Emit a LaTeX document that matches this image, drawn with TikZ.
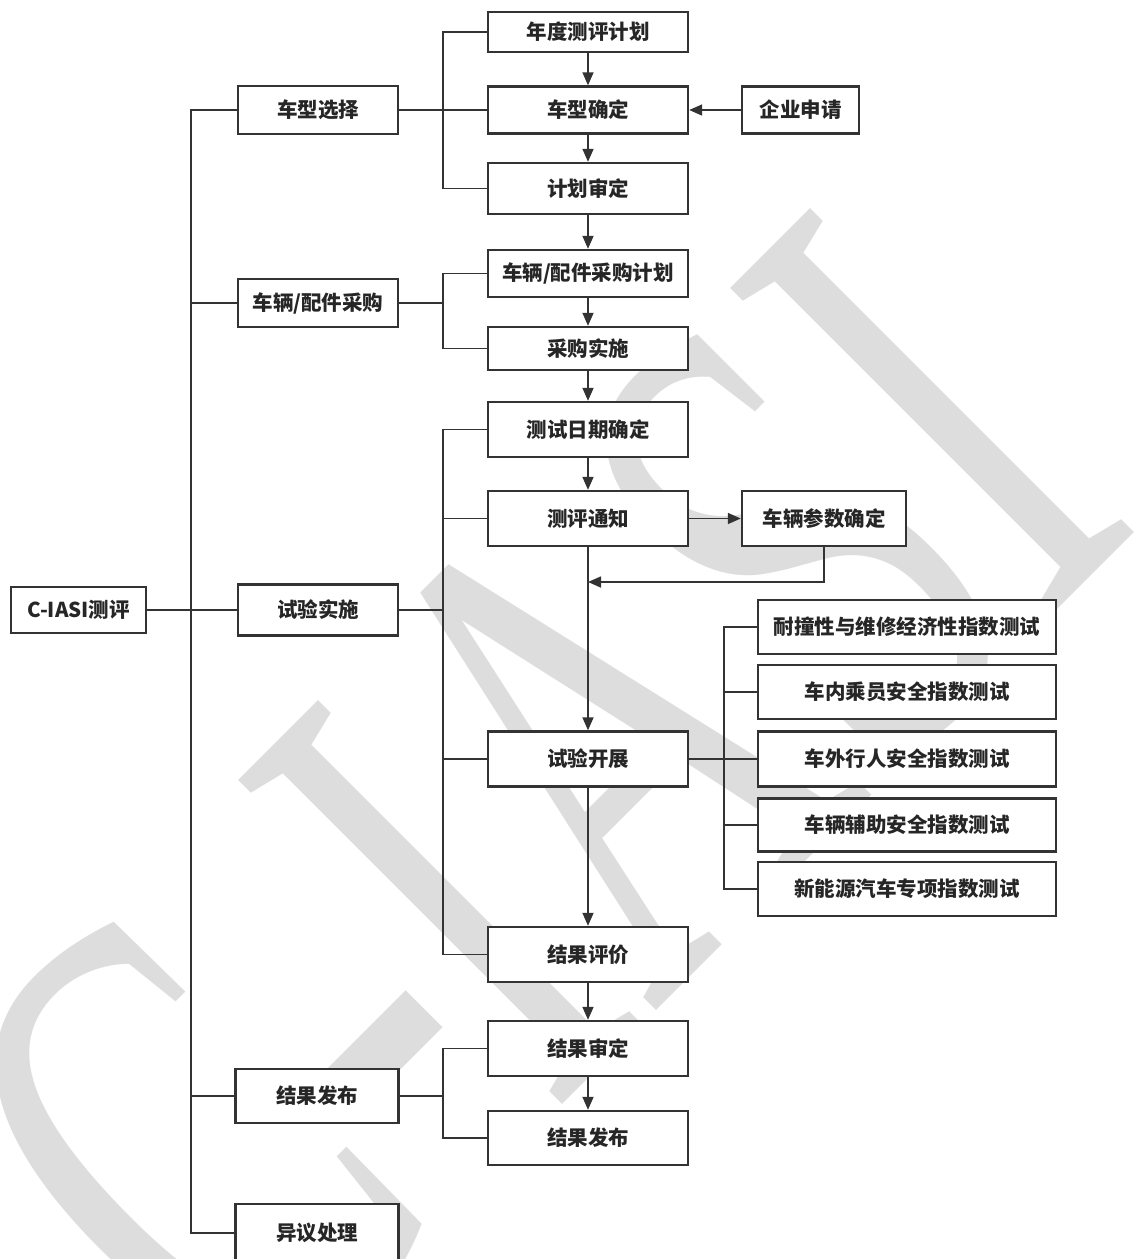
\documentclass[tikz,border=0pt]{standalone}
\usepackage{fontspec}
\setmainfont{Noto Sans CJK SC}
\newfontfamily\wmfont{Liberation Serif}
\usetikzlibrary{arrows.meta}
\definecolor{linec}{HTML}{333333}
\definecolor{textc}{HTML}{262626}
\definecolor{wmc}{HTML}{DDDDDD}
\tikzset{
  box/.style={draw=linec, line width=2.4pt, fill=white, inner sep=0pt, text=textc,
    font=\bfseries\fontsize{20.5}{24}\selectfont},
  conn/.style={draw=linec, line width=1.6pt},
  arr/.style={conn, -{Triangle[length=13pt,width=11pt]}},
}
\begin{document}
\begin{tikzpicture}[x=1pt,y=1pt]
\fill[white] (0,0) rectangle (1136,-1259);
\useasboundingbox (0,0) rectangle (1136,-1259);
% watermark
\begin{scope}[shift={(696,-971)}, rotate=45, yscale=1.62]
  \node[transform shape, anchor=base, inner sep=0pt, text=wmc,
    font=\wmfont\fontsize{432}{432}\selectfont] (wm) at (0,0) {C-IASI};
\end{scope}
% helper coordinates for buses
\coordinate (tk) at (191,0);
\coordinate (mb) at (443,0);
\coordinate (tb) at (724,0);
\coordinate (ret) at (588,-582);
% left column
\node[box, minimum width=135pt, minimum height=46pt] (ciasi) at (78.5,-610) {C-IASI测评};
\node[box, minimum width=160pt, minimum height=48pt] (xuanze) at (318,-110) {车型选择};
\node[box, minimum width=160pt, minimum height=48pt] (caigou) at (318,-303) {车辆/配件采购};
\node[box, minimum width=160pt, minimum height=51pt] (shishi) at (318,-610) {试验实施};
\node[box, minimum width=163pt, minimum height=54pt] (fabuL) at (317,-1096) {结果发布};
\node[box, minimum width=163pt, minimum height=58pt] (yiyi) at (317,-1233) {异议处理};
% middle column
\node[box, minimum width=200pt, minimum height=40pt] (ndjh) at (588,-32) {年度测评计划};
\node[box, minimum width=200pt, minimum height=47pt] (cxqd) at (588,-110) {车型确定};
\node[box, minimum width=200pt, minimum height=51pt] (jhsd) at (588,-188.5) {计划审定};
\node[box, minimum width=200pt, minimum height=47pt] (cgjh) at (588,-273.5) {车辆/配件采购计划};
\node[box, minimum width=200pt, minimum height=43pt] (cgss) at (588,-348.5) {采购实施};
\node[box, minimum width=200pt, minimum height=55pt] (csrq) at (588,-429.5) {测试日期确定};
\node[box, minimum width=200pt, minimum height=55pt] (cptz) at (588,-518.5) {测评通知};
\node[box, minimum width=200pt, minimum height=55pt] (syzk) at (588,-759) {试验开展};
\node[box, minimum width=200pt, minimum height=55pt] (jgpj) at (588,-954.5) {结果评价};
\node[box, minimum width=200pt, minimum height=55pt] (jgsd) at (588,-1048.5) {结果审定};
\node[box, minimum width=200pt, minimum height=54pt] (fabuR) at (588,-1138) {结果发布};
% right column
\node[box, minimum width=117pt, minimum height=47pt] (qysq) at (800.5,-110) {企业申请};
\node[box, minimum width=164pt, minimum height=55pt] (clcs) at (824,-518.5) {车辆参数确定};
\node[box, minimum width=298pt, minimum height=54pt] (t1) at (907,-627) {耐撞性与维修经济性指数测试};
\node[box, minimum width=298pt, minimum height=54pt] (t2) at (907,-692) {车内乘员安全指数测试};
\node[box, minimum width=298pt, minimum height=55pt] (t3) at (907,-759) {车外行人安全指数测试};
\node[box, minimum width=298pt, minimum height=53pt] (t4) at (907,-825) {车辆辅助安全指数测试};
\node[box, minimum width=298pt, minimum height=54pt] (t5) at (907,-889) {新能源汽车专项指数测试};
% trunk
\draw[conn] (xuanze.west) -- (xuanze.west -| tk) -- (yiyi.west -| tk) -- (yiyi.west);
\draw[conn] (caigou.west) -- (caigou.west -| tk);
\draw[conn] (ciasi.east) -- (shishi.west);
\draw[conn] (fabuL.west) -- (fabuL.west -| tk);
% group 1
\draw[conn] (ndjh.west) -- (ndjh.west -| mb) -- (jhsd.west -| mb) -- (jhsd.west);
\draw[conn] (xuanze.east) -- (cxqd.west);
% group 2
\draw[conn] (cgjh.west) -- (cgjh.west -| mb) -- (cgss.west -| mb) -- (cgss.west);
\draw[conn] (caigou.east) -- (caigou.east -| mb);
% group 3
\draw[conn] (csrq.west) -- (csrq.west -| mb) -- (jgpj.west -| mb) -- (jgpj.west);
\draw[conn] (cptz.west) -- (cptz.west -| mb);
\draw[conn] (syzk.west) -- (syzk.west -| mb);
\draw[conn] (shishi.east) -- (shishi.east -| mb);
% group 4
\draw[conn] (jgsd.west) -- (jgsd.west -| mb) -- (fabuR.west -| mb) -- (fabuR.west);
\draw[conn] (fabuL.east) -- (fabuL.east -| mb);
% tests bus
\draw[conn] (t1.west) -- (t1.west -| tb) -- (t5.west -| tb) -- (t5.west);
\draw[conn] (t2.west) -- (t2.west -| tb);
\draw[conn] (syzk.east) -- (t3.west);
\draw[conn] (t4.west) -- (t4.west -| tb);
% arrows
\draw[arr] (ndjh.south) -- (cxqd.north);
\draw[arr] (cxqd.south) -- (jhsd.north);
\draw[arr] (jhsd.south) -- (cgjh.north);
\draw[arr] (cgjh.south) -- (cgss.north);
\draw[arr] (cgss.south) -- (csrq.north);
\draw[arr] (csrq.south) -- (cptz.north);
\draw[arr] (cptz.south) -- (syzk.north);
\draw[arr] (syzk.south) -- (jgpj.north);
\draw[arr] (jgpj.south) -- (jgsd.north);
\draw[arr] (jgsd.south) -- (fabuR.north);
\draw[arr] (qysq.west) -- (cxqd.east);
\draw[arr] (cptz.east) -- (clcs.west);
\draw[arr] (clcs.south) |- (ret);
\end{tikzpicture}
\end{document}
